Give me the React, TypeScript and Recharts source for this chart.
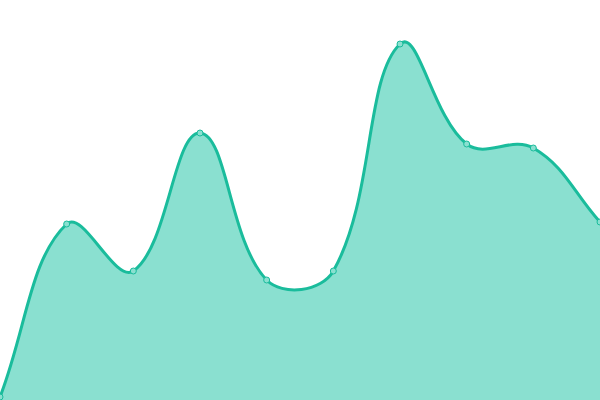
import React from "react";
import { AreaChart, Area, XAxis, YAxis } from "recharts";

const categories = ["1", "2", "3", "4", "5", "6", "7", "8", "9", "10"];
const values = [3, 176, 129, 267, 120, 129, 356, 256, 252, 178];

const data = categories.map((c, i) => ({ name: c, value: values[i] }));

// Cardinal-like spline with tension (Chart.js style control points)
function tensionCurve(t: number) {
  return (context: any) => {
    let pts: number[][] = [];
    let line = NaN;
    const cps = (i: number) => {
      const cur = pts[i];
      const prev = pts[i - 1] || cur;
      const next = pts[i + 1] || cur;
      const d01 = Math.hypot(cur[0] - prev[0], cur[1] - prev[1]);
      const d12 = Math.hypot(next[0] - cur[0], next[1] - cur[1]);
      let s01 = d01 / (d01 + d12);
      let s12 = d12 / (d01 + d12);
      if (!isFinite(s01)) s01 = 0;
      if (!isFinite(s12)) s12 = 0;
      const fa = t * s01;
      const fb = t * s12;
      return {
        p: [cur[0] - fa * (next[0] - prev[0]), cur[1] - fa * (next[1] - prev[1])],
        n: [cur[0] + fb * (next[0] - prev[0]), cur[1] + fb * (next[1] - prev[1])],
      };
    };
    return {
      areaStart() {
        line = 0;
      },
      areaEnd() {
        line = NaN;
      },
      lineStart() {
        pts = [];
      },
      lineEnd() {
        const n = pts.length;
        if (n) {
          if (line) context.lineTo(pts[0][0], pts[0][1]);
          else context.moveTo(pts[0][0], pts[0][1]);
          for (let i = 1; i < n; i++) {
            const a = cps(i - 1);
            const b = cps(i);
            context.bezierCurveTo(a.n[0], a.n[1], b.p[0], b.p[1], pts[i][0], pts[i][1]);
          }
        }
        if (line || (line !== 0 && n === 1)) context.closePath();
        line = 1 - line;
      },
      point(x: number, y: number) {
        pts.push([+x, +y]);
      },
    };
  };
}

const curve = tensionCurve(0.4);

export default function App() {
  return (
    <div style={{ position: "fixed", left: 0, top: 0, width: 600, height: 400, background: "#fff" }}>
      <AreaChart width={600} height={400} data={data} margin={{ top: 0, right: 0, bottom: 0, left: 0 }}>
        <XAxis dataKey="name" hide padding={{ left: 0, right: 0 }} />
        <YAxis hide domain={[0, 400]} />
        <Area
          type={curve as any}
          dataKey="value"
          stroke="#1abc9c"
          strokeWidth={3}
          fill="#8ae0d0"
          fillOpacity={1}
          dot={{ r: 3, fill: "#8ae0d0", stroke: "#1abc9c", strokeWidth: 1, fillOpacity: 1 }}
          activeDot={false}
          isAnimationActive={false}
        />
      </AreaChart>
    </div>
  );
}
